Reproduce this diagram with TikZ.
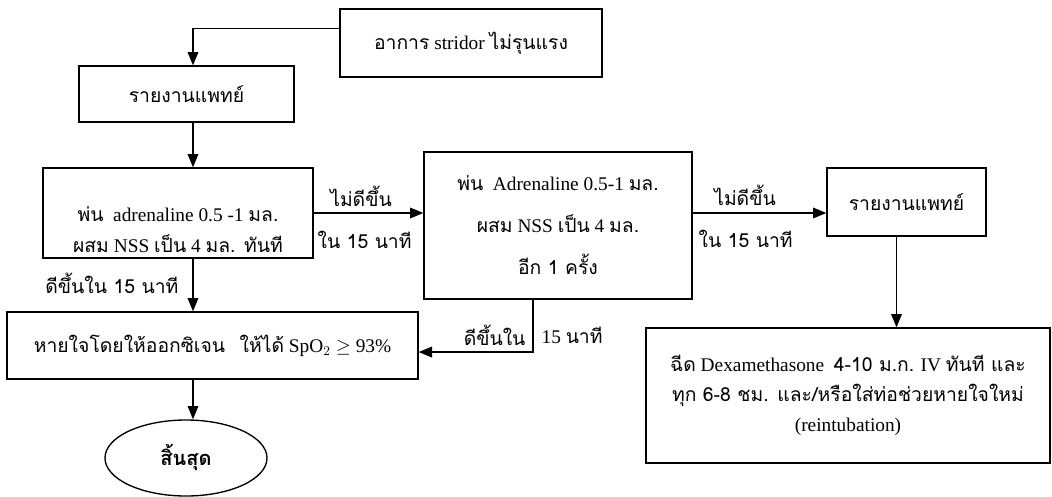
\documentclass[tikz,border=0pt]{standalone}
\usepackage{fontspec}
\setmainfont{Liberation Serif}
\newfontfamily\thaifont[Script=Thai,Scale=1.0]{Loma}
\usetikzlibrary{arrows.meta,shapes.geometric}
\newcommand{\tf}[1]{{\thaifont #1}}

\begin{document}
\begin{tikzpicture}[x=0.75pt, y=-0.75pt,
  box/.style={draw, line width=1pt, align=center, inner sep=2pt,
              font=\fontsize{14.5}{23}\selectfont},
  arr/.style={-{Triangle[length=10pt,width=8pt]}, line width=1pt},
  lbl/.style={font=\fontsize{14.5}{16}\selectfont, inner sep=1pt},
]
\useasboundingbox (0,0) rectangle (1052,496);
\coordinate (col) at (193,0);
\coordinate (row) at (0,213);

\node[box, minimum width=196.5pt, minimum height=51pt] (sym) at (471,43)
  {\tf{อาการ} stridor \tf{ไม่รุนแรง}};
\node[box, minimum width=161.25pt, minimum height=42pt] (rep1) at (186.5,94)
  {\tf{รายงานแพทย์}};
%% the text sits low in this box, hence the tall strut
\node[box, minimum width=202.5pt, minimum height=67.5pt] (neb1) at (178,213)
  {\rule{0pt}{36pt}\tf{พ่น}\ \ adrenaline 0.5 -1 \tf{มล.}\\\tf{ผสม} NSS \tf{เป็น} 4 \tf{มล. ทันที}};
\node[box, minimum width=201pt, minimum height=110.25pt,
      font=\fontsize{14.5}{31.5}\selectfont] (neb2) at (558,225.5)
  {\tf{พ่น}\ \ Adrenaline 0.5-1 \tf{มล.}\\\tf{ผสม} NSS \tf{เป็น} 4 \tf{มล.}\\\tf{อีก 1 ครั้ง}};
\node[box, minimum width=119.25pt, minimum height=51pt] (rep2) at (906.5,202)
  {\tf{รายงานแพทย์}};
\node[box, minimum width=303pt, minimum height=101.25pt,
      font=\fontsize{14.5}{22.5}\selectfont] (dexa) at (848,395.5)
  {\tf{ฉีด} Dexamethasone\ \ \tf{4-10 ม.ก.} IV \tf{ทันที และ}\\
   \tf{ทุก 6-8 ชม. และ/หรือใส่ท่อช่วยหายใจใหม่}\\(reintubation)};
\node[box, minimum width=308.25pt, minimum height=50.25pt] (oxy) at (212.5,345.5)
  {\tf{หายใจโดยให้ออกซิเจน}\ \ \ \tf{ให้ได้} SpO$_2\geq$ 93\%};
\node[ellipse, draw, line width=1pt, minimum width=121.5pt, minimum height=57pt,
      font=\fontsize{15}{17}\selectfont] (stop) at (186,458)
  {\tf{\bfseries สิ้นสุด}};

% connectors
\draw[arr] ([yshift=-15pt]sym.north west) -| (rep1.north -| col);
\draw[arr] (rep1.south -| col) -- (neb1.north -| col);
\draw[arr] (neb1.east |- row) -- (neb2.west |- row);
\draw[arr] (neb1.south -| col) -- (oxy.north -| col);
\draw[arr] ([xshift=-18.75pt]neb2.south) |- ([yshift=-4.9pt]oxy.east);
\draw[arr] (neb2.east |- row) -- (rep2.west |- row);
\draw[arr] ([xshift=-7.5pt]rep2.south) -- ([xshift=-7.5pt]rep2.south |- dexa.north);
\draw[arr] (oxy.south -| col) -- (stop.north -| col);

% labels on the connectors
\node[lbl] (no1) at (361,196) {\tf{ไม่ดีขึ้น}};
\node[lbl, anchor=west] (no1t) at (316,240) {\tf{ใน 15 นาที}};
\node[lbl] (no2) at (745,195) {\tf{ไม่ดีขึ้น}};
\node[lbl, anchor=west] (no2t) at (697,239) {\tf{ใน 15 นาที}};
\node[lbl, anchor=east] (ok1) at (180,283) {\tf{ดีขึ้นใน 15 นาที}};
\node[lbl, anchor=east] (ok2) at (527,335) {\tf{ดีขึ้นใน}};
\node[lbl, anchor=west] (ok2t) at (540,335) {15 \tf{นาที}};
\end{tikzpicture}
\end{document}
